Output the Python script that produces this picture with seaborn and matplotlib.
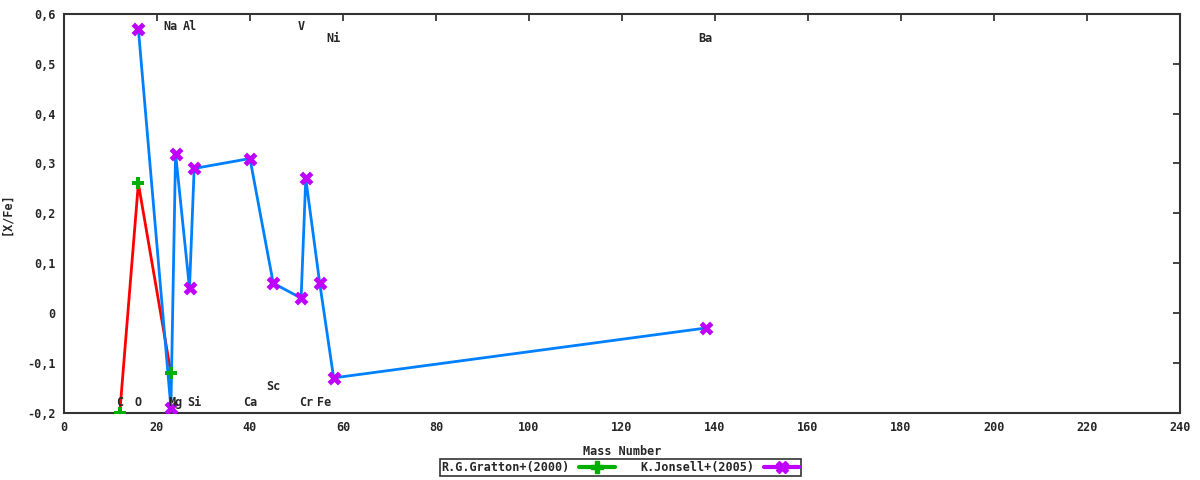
import numpy as np
import pandas as pd
import matplotlib
matplotlib.use("Agg")
import matplotlib.pyplot as plt
import seaborn as sns
from matplotlib.lines import Line2D
from matplotlib.ticker import FuncFormatter, MultipleLocator

# Gratton+(2000)
gratton_mass = [12, 16, 23]
gratton_xfe = [-0.20, 0.26, -0.12]

# Jonsell+(2005)
jonsell_mass = [16, 23, 24, 27, 28, 40, 45, 51, 52, 55, 58, 138]
jonsell_xfe = [0.57, -0.19, 0.32, 0.05, 0.29, 0.31, 0.06, 0.03, 0.27, 0.06, -0.13, -0.03]

# element labels
elem_names = ["C", "O", "Na", "Mg", "Al", "Si", "Ca", "Sc", "V", "Cr", "Fe", "Ni", "Ba"]
elem_mass = [12, 16, 23, 24, 27, 28, 40, 45, 51, 52, 56, 58, 138]
elem_ypos = [-0.18, -0.18, 0.575, -0.18, 0.575, -0.18, -0.18, -0.148, 0.575, -0.18, -0.18, 0.55, 0.55]

sns.set_style("white")
plt.rcParams['font.family'] = ['DejaVu Sans Mono', 'DejaVu Sans']
plt.rcParams['font.weight'] = 'bold'

gr = pd.DataFrame({"mass": gratton_mass, "xfe": gratton_xfe})
jo = pd.DataFrame({"mass": jonsell_mass, "xfe": jonsell_xfe})

fig = plt.figure(figsize=(12, 4.8), dpi=100)
ax = fig.add_axes([0.0533, 0.14, 0.930, 0.831])

sns.lineplot(data=gr, x="mass", y="xfe", color="#ff0000", lw=2, sort=False, ax=ax, zorder=2)
sns.lineplot(data=jo, x="mass", y="xfe", color="#0080ff", lw=2, sort=False, ax=ax, zorder=2)
sns.scatterplot(data=gr, x="mass", y="xfe", color="#00b000", marker="P", s=80, linewidth=0, ax=ax, zorder=3)
sns.scatterplot(data=jo, x="mass", y="xfe", color="#c000ff", marker="X", s=100, linewidth=0, ax=ax, zorder=3)

for name, m, yy in zip(elem_names, elem_mass, elem_ypos):
    ax.text(m, yy, name, ha="center", va="center", fontsize=8.5, fontweight="bold")

ax.set_xlim(0, 240)
ax.set_ylim(-0.2, 0.6)
ax.xaxis.set_major_locator(MultipleLocator(20))
ax.yaxis.set_major_locator(MultipleLocator(0.1))
ax.yaxis.set_major_formatter(FuncFormatter(lambda v, p: "0" if abs(v) < 1e-9 else ("%.1f" % v).replace(".", ",")))
ax.tick_params(direction="in", top=True, right=True, length=5, width=1.2, labelsize=8.5, pad=6)
for s in ax.spines.values():
    s.set_color("#333333")
    s.set_linewidth(1.5)

ax.set_xlabel("Mass Number", fontsize=8.5, fontweight="bold", labelpad=8)
ax.set_ylabel("[X/Fe]", fontsize=8.5, fontweight="bold", labelpad=10)

handles = [
    Line2D([], [], color="#00b000", lw=3, marker="P", markersize=8),
    Line2D([], [], color="#c000ff", lw=3, marker="X", markersize=8),
]
leg = fig.legend(handles, ["R.G.Gratton+(2000)", "K.Jonsell+(2005)"], loc="center",
                 bbox_to_anchor=(0.517, 0.026), ncol=2, markerfirst=False, frameon=True,
                 fancybox=False, fontsize=8.5, handlelength=3, borderpad=0.15,
                 columnspacing=2.2, handletextpad=0.8, borderaxespad=0)
leg.get_frame().set_edgecolor("black")
leg.get_frame().set_linewidth(1.2)

fig.savefig("out.png", dpi=100)
